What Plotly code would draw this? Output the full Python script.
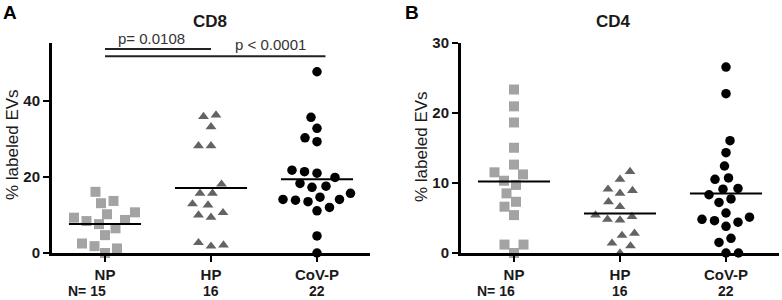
import numpy as np
import plotly.graph_objects as go

# ---------------- data ----------------
categories = ["NP", "HP", "CoV-P"]

cd8_np = [16.1, 13.7, 13.1, 10.7, 10.2, 9.3, 8.7, 8.4, 7.6, 6.5, 4.7, 2.5, 1.8, 1.2, 0.0]
cd8_hp = [36.3, 35.9, 33.2, 28.2, 28.2, 18.1, 15.7, 15.7, 12.9, 12.6, 10.6, 10.0, 9.4, 2.7, 2.1, 1.8]
cd8_cov = [47.7, 35.7, 32.8, 30.3, 29.3, 21.8, 21.4, 21.0, 19.9, 18.3, 17.6, 17.3, 15.7, 14.7,
           14.1, 14.1, 13.9, 13.5, 12.0, 11.1, 4.5, 0.0]

cd4_np = [23.3, 20.9, 18.6, 15.0, 12.6, 11.5, 11.2, 10.3, 9.7, 8.5, 7.3, 6.6, 5.4, 1.2, 1.2, 0.0]
cd4_hp = [11.6, 10.5, 9.1, 8.9, 8.5, 7.3, 6.6, 5.4, 5.2, 4.8, 4.7, 2.8, 2.5, 1.4, 1.0, 0.0]
cd4_cov = [26.5, 22.7, 16.0, 14.3, 12.4, 10.7, 10.5, 9.2, 9.1, 8.3, 7.7, 7.2, 5.7, 5.1, 4.8,
           4.6, 4.4, 3.8, 2.1, 1.5, 0.0, 0.0]

n_labels_cd8 = ["N= 15", "16", "22"]
n_labels_cd4 = ["N= 16", "16", "22"]
yticks_cd8 = [0, 20, 40]
yticks_cd4 = [0, 10, 20, 30]
pvalue_labels = ["p= 0.0108", "p < 0.0001"]
panel_titles = ["CD8", "CD4"]
panel_letters = ["A", "B"]
y_title = "% labeled EVs"

# ---------------- layout geometry ----------------
W, H = 782, 300
FONT = "Arial, Liberation Sans, sans-serif"
TXT = "#1a1a1a"
plot_top, plot_bottom = 42.5, 253.0
panelA_x = (52.0, 370.0)
panelB_x = (461.0, 779.0)
yrangeA = [0, 55.4]
yrangeB = [0, 30]
xrange_ = [-0.5, 2.5]

styles = [
    dict(symbol="square", size=10, color="#a3a3a3"),
    dict(symbol="triangle-up", size=9.5, color="#636363"),
    dict(symbol="circle", size=9.5, color="#000000"),
]


def swarm(vals, sx, sy, d):
    """Simple beeswarm: offsets (in axis units) so markers don't overlap."""
    vals = np.asarray(vals, dtype=float)
    order = np.argsort(vals, kind="stable")
    placed = []
    offs = np.zeros(len(vals))
    for k, i in enumerate(order):
        y = vals[i] * sy
        best = None
        step = 0
        while best is None:
            signs = (1,) if step == 0 else ((-1, 1) if k % 2 == 0 else (1, -1))
            for sg in signs:
                x = sg * step * 0.5
                if all((x - px) ** 2 + (y - py) ** 2 >= d * d for px, py in placed):
                    best = x
                    break
            step += 1
        placed.append((best, y))
        offs[i] = best / sx
    return offs


fig = go.Figure()

panels = [
    dict(groups=[cd8_np, cd8_hp, cd8_cov], xa="x", ya="y", xdom=panelA_x, yr=yrangeA,
         ticks=yticks_cd8, nlab=n_labels_cd8),
    dict(groups=[cd4_np, cd4_hp, cd4_cov], xa="x2", ya="y2", xdom=panelB_x, yr=yrangeB,
         ticks=yticks_cd4, nlab=n_labels_cd4),
]

for p in panels:
    sx = (p["xdom"][1] - p["xdom"][0]) / (xrange_[1] - xrange_[0])
    sy = (plot_bottom - plot_top) / (p["yr"][1] - p["yr"][0])
    for gi, vals in enumerate(p["groups"]):
        st = styles[gi]
        offs = swarm(vals, sx, sy, 12.5)
        fig.add_trace(go.Scatter(
            x=gi + offs, y=vals, mode="markers", xaxis=p["xa"], yaxis=p["ya"],
            marker=dict(symbol=st["symbol"], size=st["size"], color=st["color"],
                        line=dict(width=0)),
            cliponaxis=False, showlegend=False, hoverinfo="y"))
        m = float(np.mean(vals))
        fig.add_trace(go.Scatter(
            x=[gi - 0.34, gi + 0.34], y=[m, m], mode="lines", xaxis=p["xa"], yaxis=p["ya"],
            line=dict(color="black", width=2), cliponaxis=False, showlegend=False,
            hoverinfo="skip"))

ydom = [1 - plot_bottom / H, 1 - plot_top / H]
axis_common = dict(showline=True, linecolor="black", linewidth=3, ticks="outside",
                   tickcolor="black", tickwidth=2, ticklen=6, showgrid=False, zeroline=False,
                   automargin=False)

fig.update_layout(
    width=W, height=H, margin=dict(l=0, r=0, t=0, b=0, autoexpand=False),
    paper_bgcolor="white", plot_bgcolor="white",
    font=dict(family=FONT, color=TXT),
    xaxis=dict(domain=[panelA_x[0] / W, panelA_x[1] / W], range=xrange_, anchor="y",
               tickvals=[0, 1, 2], ticktext=categories, ticklabelstandoff=0,
               tickfont=dict(size=15, weight="bold", color=TXT), **axis_common),
    yaxis=dict(domain=ydom, range=yrangeA, anchor="x", tickvals=yticks_cd8,
               tickfont=dict(size=15, weight="bold", color=TXT), **axis_common),
    xaxis2=dict(domain=[panelB_x[0] / W, panelB_x[1] / W], range=xrange_, anchor="y2",
                tickvals=[0, 1, 2], ticktext=categories, ticklabelstandoff=0,
                tickfont=dict(size=15, weight="bold", color=TXT), **axis_common),
    yaxis2=dict(domain=ydom, range=yrangeB, anchor="x2", tickvals=yticks_cd4,
                tickfont=dict(size=15, weight="bold", color=TXT), **axis_common),
)

annotations = []
# N row
for p in panels:
    xa = p["xa"]
    for i, t in enumerate(p["nlab"]):
        annotations.append(dict(x=(0.03 if i == 0 else i), y=1 - 291 / H, xref=xa,
                                yref="paper", text=t, showarrow=False,
                                xanchor=("right" if i == 0 else "center"), yanchor="middle",
                                font=dict(size=14, weight="bold", color=TXT)))


def ann(x, y, text, size, weight="normal", color=TXT, xref="paper", angle=0):
    return dict(x=x, y=y, xref=xref, yref="paper", text=text, showarrow=False,
                xanchor="center", yanchor="middle", textangle=angle,
                font=dict(size=size, weight=weight, color=color))


annotations += [
    ann(210 / W, 1 - 21 / H, panel_titles[0], 17, "bold"),
    ann(613 / W, 1 - 21 / H, panel_titles[1], 17, "bold"),
    ann(10 / W, 1 - 12 / H, panel_letters[0], 19, "bold", "black"),
    ann(412 / W, 1 - 12 / H, panel_letters[1], 19, "bold", "black"),
    ann(12 / W, 1 - 145 / H, y_title, 17, angle=-90),
    ann(421 / W, 1 - 147 / H, y_title, 17, angle=-90),
    ann(0.44, 1 - 38 / H, pvalue_labels[0], 15, color="#333333", xref="x"),
    ann(1.56, 1 - 44 / H, pvalue_labels[1], 15, color="#333333", xref="x"),
]
fig.update_layout(annotations=annotations)

fig.add_shape(type="line", xref="x", yref="y", x0=0, x1=1, y0=53.7, y1=53.7,
              line=dict(color="#222222", width=2))
fig.add_shape(type="line", xref="x", yref="y", x0=0, x1=2.08, y0=51.8, y1=51.8,
              line=dict(color="#222222", width=2))

fig.write_html("out.html", config={"displayModeBar": False},
               post_script="document.body.style.margin='0px';")
